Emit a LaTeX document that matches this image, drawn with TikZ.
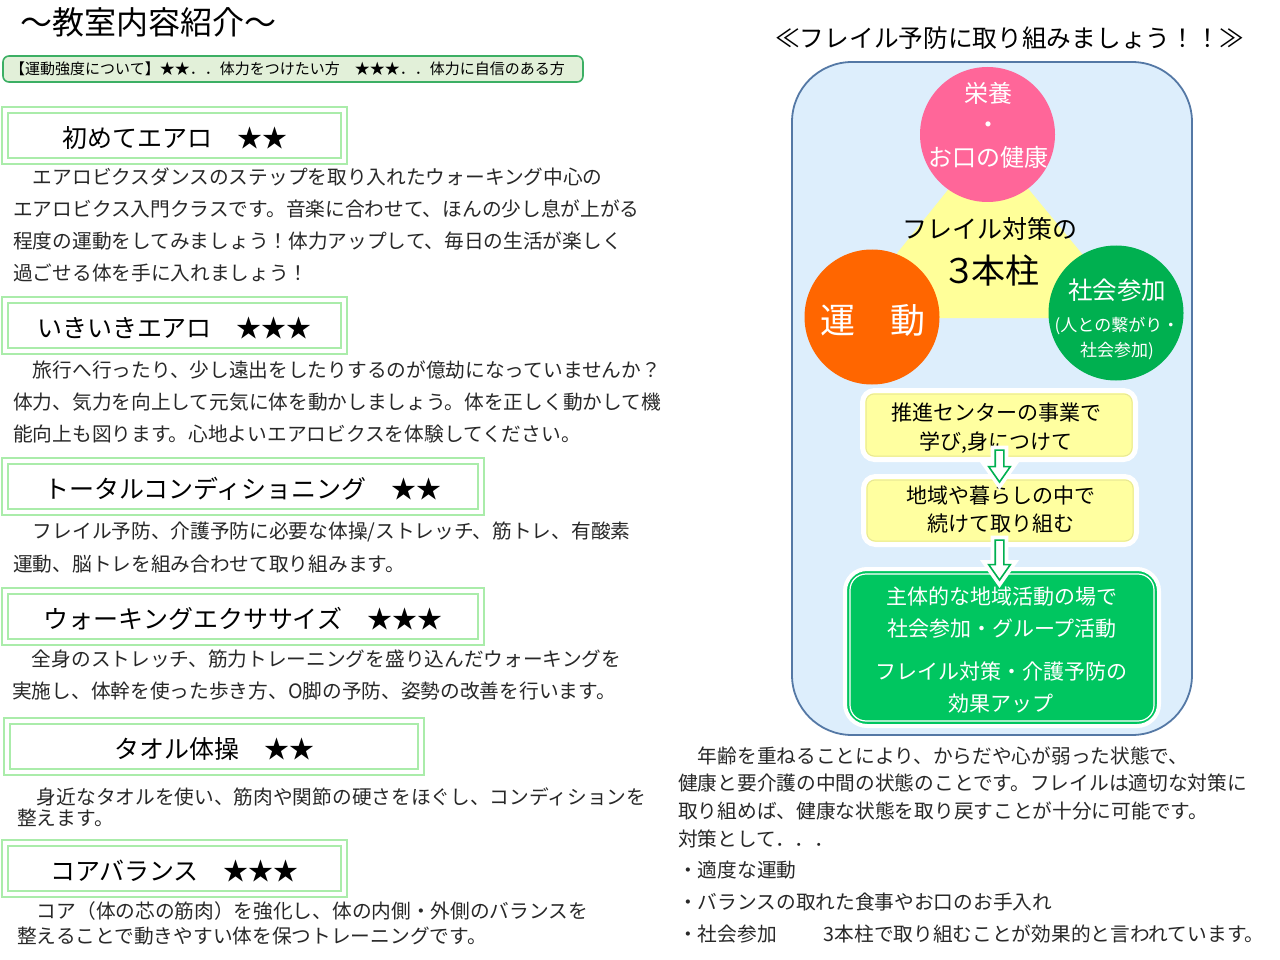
\documentclass[tikz,border=0pt]{standalone}
\usepackage{fontspec}
\setmainfont{Noto Sans CJK JP}
\usetikzlibrary{shapes.arrows,calc}
\definecolor{lgreen}{RGB}{170,236,170}
\definecolor{legfill}{RGB}{226,240,217}
\definecolor{legdraw}{RGB}{60,175,100}
\definecolor{bluefill}{RGB}{221,238,252}
\definecolor{bluedraw}{RGB}{84,120,165}
\definecolor{tri}{RGB}{255,255,153}
\definecolor{pinkc}{RGB}{255,102,153}
\definecolor{orangec}{RGB}{255,102,0}
\definecolor{greenc}{RGB}{0,176,80}
\definecolor{ybox}{RGB}{255,255,160}
\definecolor{yline}{RGB}{232,232,150}
\definecolor{gbox}{RGB}{0,198,96}
\definecolor{txt}{RGB}{40,40,40}
\tikzset{
  jpf/.style={inner sep=0pt, font=\fontsize{#1}{#1}\selectfont,
    text height=0.88*#1pt, text depth=0.12*#1pt},
  body/.style={jpf=19.7, anchor=west, text=txt},
  classbox/.style={draw=lgreen, double=white, double distance=4pt, line width=2pt,
    minimum height=51pt, font=\fontsize{25}{25}\selectfont, text height=27pt, text depth=3pt,
    text=black, inner sep=0pt},
  legbox/.style={draw=legdraw, fill=legfill, line width=1.6pt, rounded corners=6pt,
    minimum width=580pt, minimum height=26pt},
  circ/.style={circle, minimum size=135pt, inner sep=0pt},
  ctext/.style={jpf=#1, text=white},
  ybx/.style={fill=ybox, draw=white, line width=5pt, rounded corners=12pt, inner sep=0pt},
  yinner/.style={draw=yline, line width=1pt, rounded corners=8pt},
  gbx/.style={fill=gbox, draw=white, line width=4pt, rounded corners=22pt, inner sep=0pt},
  ginner/.style={draw=white, line width=1.2pt, rounded corners=16pt},
  btext/.style={jpf=21, text=black},
  wtext/.style={jpf=21, text=white},
  blockarr/.style={single arrow, draw=greenc, fill=white, line width=1.6pt, rotate=-90,
    inner sep=3.5pt, single arrow head extend=6.5pt, single arrow head indent=0pt,
    single arrow tip angle=70,
    preaction={draw=white, line width=9pt, line join=miter}}
}
\begin{document}
\begin{tikzpicture}[x=1pt,y=-1pt]
\useasboundingbox (0,0) rectangle (1280,960);
\fill[white] (0,0) rectangle (1280,960);

% ---------------- left column ----------------
\node[jpf=32, anchor=west] (title) at (20,22) {～教室内容紹介～};

\node[legbox] (leg) at (293,69) {};
\node[jpf=15, anchor=west] (legt) at (10,69)
  {【運動強度について】★★．．体力をつけたい方　★★★．．体力に自信のある方};

\node[classbox, minimum width=339pt] (b1) at (174.5,135.5) {初めてエアロ　★★};
\node[body] (p1a) at (13,177) {　エアロビクスダンスのステップを取り入れたウォーキング中心の};
\node[body] (p1b) at (13,209) {エアロビクス入門クラスです。音楽に合わせて、ほんの少し息が上がる};
\node[body] (p1c) at (13,241) {程度の運動をしてみましょう！体力アップして、毎日の生活が楽しく};
\node[body] (p1d) at (13,273) {過ごせる体を手に入れましょう！};

\node[classbox, minimum width=339pt] (b2) at (174.5,325.5) {いきいきエアロ　★★★};
\node[body] (p2a) at (13,370) {　旅行へ行ったり、少し遠出をしたりするのが億劫になっていませんか？};
\node[body] (p2b) at (13,402) {体力、気力を向上して元気に体を動かしましょう。体を正しく動かして機};
\node[body] (p2c) at (13,434) {能向上も図ります。心地よいエアロビクスを体験してください。};

\node[classbox, minimum width=476pt] (b3) at (243,486.5) {トータルコンディショニング　★★};
\node[body] (p3a) at (13,531) {　フレイル予防、介護予防に必要な体操/ストレッチ、筋トレ、有酸素};
\node[body] (p3b) at (13,564) {運動、脳トレを組み合わせて取り組みます。};

\node[classbox, minimum width=476pt] (b4) at (243,616.5) {ウォーキングエクササイズ　★★★};
\node[body] (p4a) at (12,659) {　全身のストレッチ、筋力トレーニングを盛り込んだウォーキングを};
\node[body] (p4b) at (12,691) {実施し、体幹を使った歩き方、O脚の予防、姿勢の改善を行います。};

\node[classbox, minimum width=414pt] (b5) at (214,746.5) {タオル体操　★★};
\node[body] (p5a) at (17,797) {　身近なタオルを使い、筋肉や関節の硬さをほぐし、コンディションを};
\node[body] (p5b) at (17,818) {整えます。};

\node[classbox, minimum width=339pt] (b6) at (174.5,868.5) {コアバランス　★★★};
\node[body] (p6a) at (17,911) {　コア（体の芯の筋肉）を強化し、体の内側・外側のバランスを};
\node[body] (p6b) at (17,936) {整えることで動きやすい体を保つトレーニングです。};

% ---------------- right column ----------------
\node[jpf=24.7, anchor=west] (rtitle) at (775,38)
  {≪フレイル予防に取り組みましょう！！≫};

\node[draw=bluedraw, fill=bluefill, line width=1.8pt, rounded corners=60pt,
  minimum width=400pt, minimum height=673pt] (frame) at (992,398.5) {};

\fill[tri] (988,140) -- (845,318) -- (1135,318) -- cycle;

\node[circ, fill=pinkc] (pink) at (987.5,134.5) {};
\node[circ, fill=orangec] (orange) at (872,317) {};
\node[circ, fill=greenc] (green) at (1116,313) {};

\node[ctext=24] (pk1) at (988,93) {栄養};
\node[ctext=24] (pk2) at (988,124) {・};
\node[ctext=24] (pk3) at (988,157) {お口の健康};

\node[ctext=35] (or1) at (873,320) {運　動};

\node[ctext=24.5] (gr1) at (1117,290) {社会参加};
\node[ctext=17] (gr2) at (1117,325) {(人との繋がり・};
\node[ctext=17] (gr3) at (1117,350) {社会参加)};

\node[jpf=25] (c1) at (990,229) {フレイル対策の};
\node[jpf=34] (c2) at (991,271) {３\hspace{-5pt}本柱};

% yellow boxes
\node[ybx, minimum width=273pt, minimum height=69pt] (y1) at (999,425) {};
\draw[yinner] ($(y1.north west)+(6,6)$) rectangle ($(y1.south east)+(-6,-6)$);
\node[btext] (y1a) at (996,413) {推進センターの事業で};
\node[btext] (y1b) at (996,442) {学び,身につけて};

\node[ybx, minimum width=273pt, minimum height=68pt] (y2) at (1000,510.5) {};
\draw[yinner] ($(y2.north west)+(6,6)$) rectangle ($(y2.south east)+(-6,-6)$);
\node[btext] (y2a) at (1001,496) {地域や暮らしの中で};
\node[btext] (y2b) at (1001,524) {続けて取り組む};

% green box
\node[gbx, minimum width=314pt, minimum height=157pt] (gb) at (1002,647.5) {};
\draw[ginner] ($(gb.north west)+(7,7)$) rectangle ($(gb.south east)+(-7,-7)$);
\node[wtext] (g1) at (1002,597) {主体的な地域活動の場で};
\node[wtext] (g2) at (1002,629) {社会参加・グループ活動};
\node[wtext] (g3) at (1001,672) {フレイル対策・介護予防の};
\node[wtext] (g4) at (1001,704) {効果アップ};

% block arrows
\node[blockarr, minimum height=32pt] (a1) at (999.5,463) {};
\node[blockarr, minimum height=40pt] (a2) at (999.5,557) {};

% bottom right text
\node[body] (r1) at (678,756) {　年齢を重ねることにより、からだや心が弱った状態で、};
\node[body] (r2) at (678,783) {健康と要介護の中間の状態のことです。フレイルは適切な対策に};
\node[body] (r3) at (678,811) {取り組めば、健康な状態を取り戻すことが十分に可能です。};
\node[body] (r4) at (678,839) {対策として．．．};
\node[body] (r5) at (678,870) {・適度な運動};
\node[body] (r6) at (678,902) {・バランスの取れた食事やお口のお手入れ};
\node[body] (r7) at (678,934) {・社会参加\hspace*{47pt}3本柱で取り組むことが効果的と言われています。};
\end{tikzpicture}
\end{document}
